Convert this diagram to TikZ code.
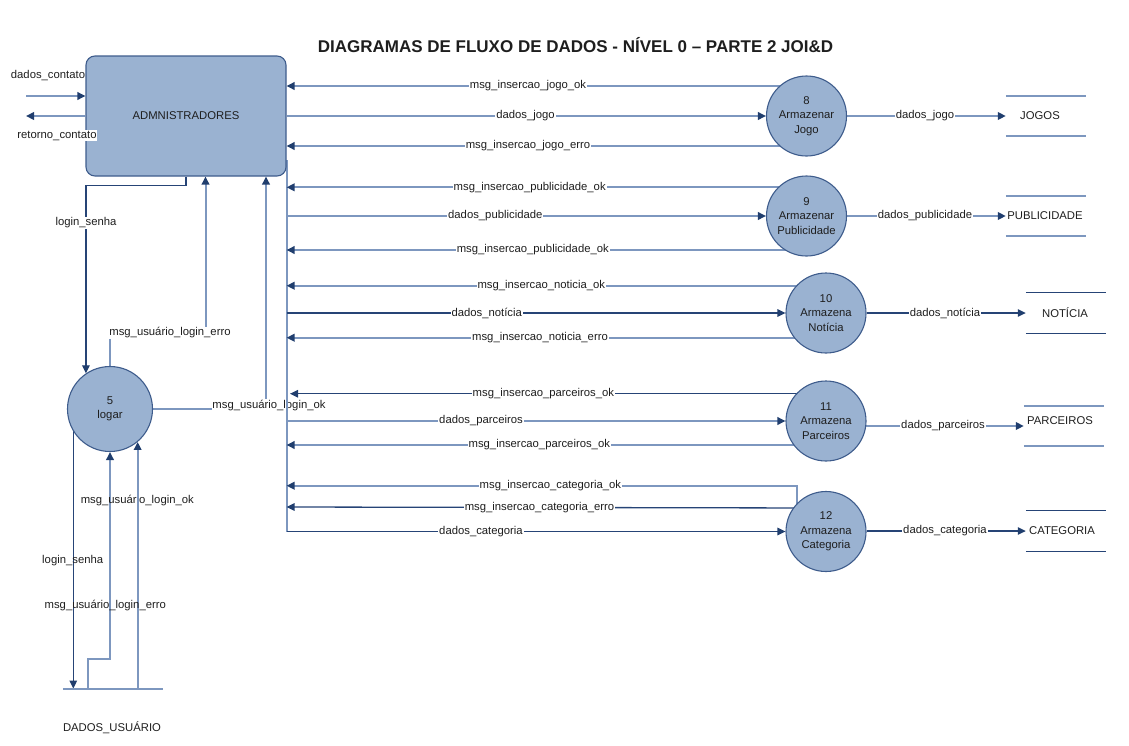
\documentclass[tikz,border=0pt]{standalone}
\usepackage{fontspec}
\setmainfont{Liberation Sans}
\usetikzlibrary{arrows.meta}
\definecolor{procfill}{RGB}{154,178,209}
\definecolor{procdraw}{RGB}{62,92,140}
\definecolor{lineL}{RGB}{125,151,191}
\definecolor{lineD}{RGB}{38,68,118}
\definecolor{tipC}{RGB}{32,62,110}
\definecolor{txt}{RGB}{30,30,30}
\pgfdeclarelayer{bg}
\pgfsetlayers{bg,main}
\tikzset{
  lab/.style={font=\fontsize{11.3}{14.5}\selectfont, text=txt},
  proc/.style={lab, circle, draw=procdraw, fill=procfill, line width=1.1pt, minimum size=80pt, inner sep=0pt, align=center},
  ent/.style={lab, rectangle, rounded corners=9pt, draw=procdraw, fill=procfill, line width=1.1pt, minimum width=200pt, minimum height=120pt},
  fl/.style={draw=lineL, line width=2pt},
  fd/.style={draw=lineD, line width=1.3pt},
  tp/.style={-{Triangle[length=8pt,width=7.5pt,color=tipC]}},
  lbl/.style={lab, fill=white, inner sep=0.8pt},
  lbn/.style={lab, inner sep=0.8pt},
  storebox/.style={minimum width=80pt, minimum height=40pt, inner sep=0pt},
  storetxt/.style={lab, inner sep=0pt},
}
\begin{document}
\begin{tikzpicture}[x=1pt,y=-1pt]
\useasboundingbox (0,0) rectangle (1129,745);
\node[lab, font=\bfseries\fontsize{17}{20}\selectfont] (title) at (575.5,45) {DIAGRAMAS DE FLUXO DE DADOS - NÍVEL 0 – PARTE 2 JOI\&D};

% entity and processes
\node[ent] (adm) at (186,116) {ADMNISTRADORES};
\node[proc, minimum size=85pt] (p5) at (110,409) {5\\logar};
\node[proc] (p8) at (806.5,116) {8\\Armazenar\\Jogo};
\node[proc] (p9) at (806.5,216) {9\\Armazenar\\Publicidade};
\node[proc] (p10) at (826,313) {10\\Armazena\\Notícia};
\node[proc] (p11) at (826,421) {11\\Armazena\\Parceiros};
\node[proc] (p12) at (826,531.5) {12\\Armazena\\Categoria};

% data stores
\node[storebox] (sJ) at (1046,116) {};
\node[storebox] (sP) at (1046,216) {};
\node[storebox] (sN) at (1066,313) {};
\node[storebox] (sPa) at (1064,426) {};
\node[storebox] (sC) at (1066,531) {};
\node[storebox, minimum width=100pt, minimum height=0pt] (sU) at (113,688.7) {};
\draw[fl] (sJ.north west) -- (sJ.north east) (sJ.south west) -- (sJ.south east);
\draw[fl] (sP.north west) -- (sP.north east) (sP.south west) -- (sP.south east);
\draw[fd] (sN.north west) -- (sN.north east) (sN.south west) -- (sN.south east);
\draw[fl] (sPa.north west) -- (sPa.north east) (sPa.south west) -- (sPa.south east);
\draw[fd] (sC.north west) -- (sC.north east) (sC.south west) -- (sC.south east);
\draw[fl] (sU.west) -- (sU.east);
\node[storetxt] (tJ) at (1040,116) {JOGOS};
\node[storetxt] (tP) at (1045,216) {PUBLICIDADE};
\node[storetxt] (tN) at (1065,313) {NOTÍCIA};
\node[storetxt] (tPa) at (1060,421) {PARCEIROS};
\node[storetxt] (tC) at (1062,531) {CATEGORIA};
\node[storetxt] (tU) at (112,728) {DADOS\_USUÁRIO};

\coordinate (ext1) at (26,96);
\coordinate (ext2) at (26,116);
\coordinate (k12) at (796.7,485.7);

\begin{pgfonlayer}{bg}
% external contact flows
\draw[fl,tp] (ext1) -- (adm.west |- ext1) node[lbn] at (48,75.5) {dados\_contato};
\draw[fl,tp] (adm.west |- ext2) -- (ext2);

% administrators <-> logar
\draw[fd,tp] (adm.south) -- ++(0,9) -| (p5.124);
\node[lbl] at (86,223) {login\_senha};
\draw[fl,tp] (p5.north) |- (205.5,333) -- (adm.south -| 205.5,0) node[lbl] at (170,333) {msg\_usuário\_login\_erro};
\draw[fl,tp] (p5.east) -- (266,409) -- (adm.south -| 266,0) node[lbl] at (269,405.5) {msg\_usuário\_login\_ok};

% bus
\draw[fl] (adm.east |- 0,160) -- (adm.east |- p12);

% jogo
\draw[fl,tp] (p8 |- 0,86) -- (adm.east |- 0,86) node[lbl] at (528,86) {msg\_insercao\_jogo\_ok};
\draw[fl,tp] (adm.east |- p8) -- (p8.west) node[lbl] at (525.5,116) {dados\_jogo};
\draw[fl,tp] (p8 |- 0,146) -- (adm.east |- 0,146) node[lbl] at (528,146) {msg\_insercao\_jogo\_erro};
% publicidade
\draw[fl,tp] (p9 |- 0,187.3) -- (adm.east |- 0,187.3) node[lbl] at (529.7,187.3) {msg\_insercao\_publicidade\_ok};
\draw[fl,tp] (adm.east |- p9) -- (p9.west) node[lbl] at (495.3,216) {dados\_publicidade};
\draw[fl,tp] (p9 |- 0,250) -- (adm.east |- 0,250) node[lbl] at (532.8,250) {msg\_insercao\_publicidade\_ok};
% noticia
\draw[fl,tp] (p10 |- 0,285.7) -- (adm.east |- 0,285.7) node[lbl] at (541.3,285.7) {msg\_insercao\_noticia\_ok};
\draw[fd,tp] (adm.east |- p10) -- (p10.west) node[lbl] at (486.7,313) {dados\_notícia};
\draw[fl,tp] (p10 |- 0,337.7) -- (adm.east |- 0,337.7) node[lbl] at (540,337.7) {msg\_insercao\_noticia\_erro};
% parceiros
\draw[fd,tp] (p11 |- 0,393.7) -- (290,393.7) node[lbl] at (543.4,393.7) {msg\_insercao\_parceiros\_ok};
\draw[fl,tp] (adm.east |- p11) -- (p11.west) node[lbl] at (481,421) {dados\_parceiros};
\draw[fl,tp] (p11 |- 0,445) -- (adm.east |- 0,445) node[lbl] at (539.3,445) {msg\_insercao\_parceiros\_ok};
% categoria
\draw[fl,tp] (p12 -| k12) -- (k12) -- (adm.east |- k12) node[lbl] at (550.4,485.7) {msg\_insercao\_categoria\_ok};
\draw[fd,tp] (p12 |- 0,508) -- (adm.east |- 0,507) node[lbl] at (539.5,507.5) {msg\_insercao\_categoria\_erro};
\draw[fd,tp] (adm.east |- p12) -- (p12.west) node[lbl] at (481,531.5) {dados\_categoria};

% outputs to stores
\draw[fl,tp] (p8.east) -- (sJ.west) node[lbl] at (925,116) {dados\_jogo};
\draw[fl,tp] (p9.east) -- (sP.west) node[lbl] at (925,216) {dados\_publicidade};
\draw[fd,tp] (p10.east) -- (sN.west) node[lbl] at (945,313) {dados\_notícia};
\draw[fl,tp] (p11 |- sPa) -- (sPa.west) node[lbl] at (943,426) {dados\_parceiros};
\draw[fd,tp] (p12.east |- sC) -- (sC.west) node[lbl] at (945,531) {dados\_categoria};

% logar <-> DADOS_USUARIO
\draw[fd,tp] (p5 -| 73.3,0) -- (sU.north -| 73.3,0) node[lbn] at (72.7,561) {login\_senha};
\draw[fl,tp] (sU.north -| 87.7,0) -- (87.7,658.7) -| (p5.south) node[lbn] at (137.3,500.7) {msg\_usuário\_login\_ok};
\draw[fl,tp] (p5.-50.6 |- sU.north) -- (p5.-50.6) node[lbn] at (105.3,605.3) {msg\_usuário\_login\_erro};
\end{pgfonlayer}

\node[lbl] (retlbl) at (57,135.5) {retorno\_contato};
\end{tikzpicture}
\end{document}
